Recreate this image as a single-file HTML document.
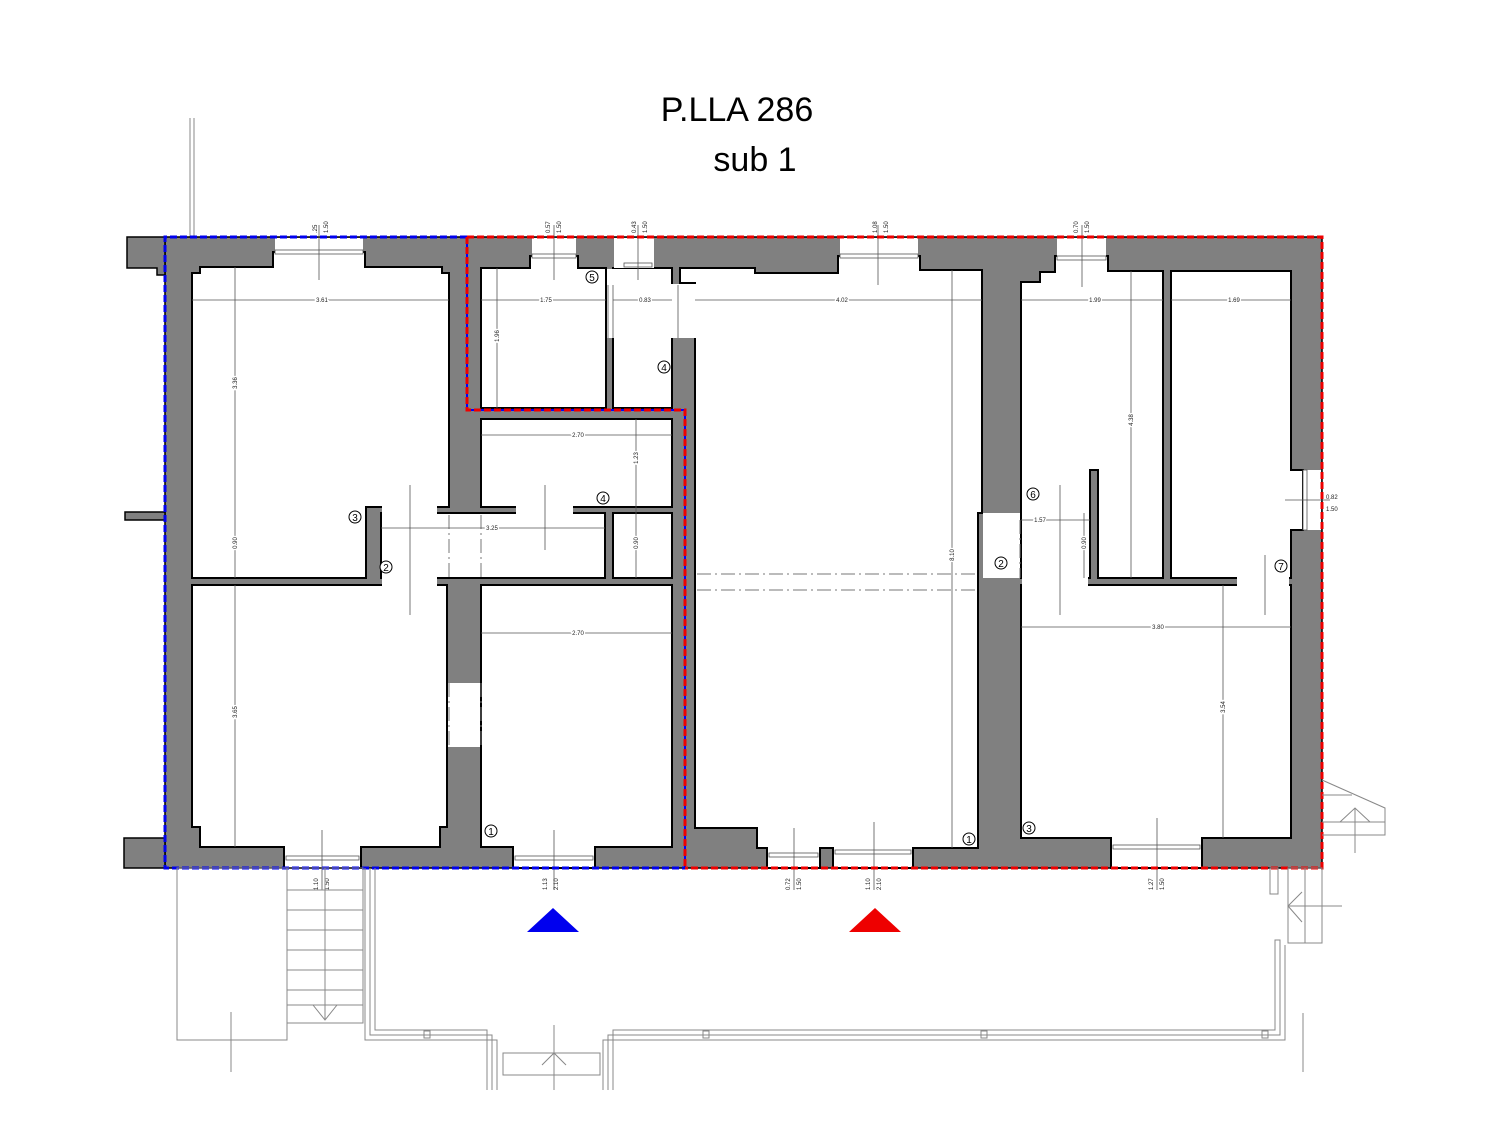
<!DOCTYPE html>
<html><head><meta charset="utf-8"><style>
html,body{margin:0;padding:0;background:#fff}
svg{display:block}
text{font-family:"Liberation Sans",sans-serif}
.d{font-size:6px;fill:#222}
.r{fill:#fff;stroke:#000;stroke-width:2}
.l{stroke:#555;stroke-width:0.8;fill:none}
.t{stroke:#888;stroke-width:1;fill:none}
</style></head><body>
<svg width="1500" height="1143" viewBox="0 0 1500 1143" xmlns="http://www.w3.org/2000/svg">
<text x="737" y="121" font-size="34" text-anchor="middle">P.LLA 286</text>
<text x="755" y="171" font-size="34" text-anchor="middle">sub 1</text>
<line x1="190" y1="118" x2="190" y2="237" class="t"/><line x1="194" y1="118" x2="194" y2="237" class="t"/>

<g fill="#808080" stroke="#000" stroke-width="1.5">
<rect x="165" y="237" width="1157" height="631"/>
<polygon points="127,237 165,237 165,275 157,275 157,268 127,268"/>
<rect x="125" y="512" width="40" height="8"/>
<rect x="124" y="838" width="41" height="30"/>
</g>
<polygon class="r" points="192,273 200,273 200,267 273,267 273,252 365,252 365,267 442,267 442,273 449,273 449,507 366,507 366,578 192,578"/>
<polygon class="r" points="481,268 530,268 530,256 578,256 578,268 606,268 606,408 481,408"/>
<rect class="r" x="613" y="268" width="59" height="140"/>
<polygon class="r" points="481,419 672,419 672,507 481,507"/>
<polygon class="r" points="381,513 605,513 605,578 381,578"/>
<rect class="r" x="613" y="513" width="59" height="65"/>
<polygon class="r" points="192,585 447,585 447,827 440,827 440,847 361,847 361,868 363,868 284,868 284,847 200,847 200,827 192,827"/>
<polygon class="r" points="481,585 672,585 672,847 595,847 595,868 513,868 513,847 481,847"/>
<polygon class="r" points="695,338 695,283 680,283 680,268 755,268 755,273 838,273 838,256 920,256 920,270 982,270 982,513 978,513 978,848 913,848 913,868 833,868 833,848 820,848 820,868 767,868 767,848 757,848 757,828 695,828"/>
<polygon class="r" points="1021,282 1040,282 1040,272 1055,272 1055,256 1108,256 1108,271 1163,271 1163,578 1098,578 1098,470 1090,470 1090,578 1021,578"/>
<polygon class="r" points="1171,271 1291,271 1291,470 1303,470 1303,530 1291,530 1291,578 1171,578"/>
<polygon class="r" points="1021,585 1291,585 1291,838 1202,838 1202,868 1111,868 1111,838 1021,838"/>
<g fill="#fff" stroke="none">
<rect x="275" y="238" width="88" height="20"/>
<rect x="532" y="238" width="44" height="20"/>
<rect x="607" y="269" width="7" height="69"/>
<rect x="614" y="238" width="40" height="30"/>
<rect x="840" y="238" width="78" height="20"/>
<rect x="1057" y="238" width="49" height="20"/>
<rect x="671" y="284" width="25" height="54"/>
<rect x="382" y="505" width="55" height="10"/>
<rect x="516" y="505" width="57" height="10"/>
<rect x="382" y="576" width="55" height="11"/>
<rect x="448" y="683" width="32" height="64"/>
<rect x="983" y="513" width="37" height="65"/>
<rect x="1022" y="513" width="66" height="6"/>
<rect x="1022" y="576" width="66" height="11"/>
<rect x="1237" y="576" width="52" height="11"/>
<rect x="1303" y="470" width="18" height="60"/>
<rect x="286" y="848" width="73" height="19"/>
<rect x="515" y="848" width="78" height="19"/>
<rect x="769" y="848" width="49" height="19"/>
<rect x="835" y="848" width="76" height="19"/>
<rect x="1113" y="838" width="87" height="29"/>
</g>
<g class="l">
<rect x="275" y="250" width="88" height="4"/><rect x="532" y="254" width="44" height="4"/><rect x="624" y="263" width="28" height="4"/>
<rect x="840" y="254" width="78" height="4"/><rect x="1057" y="256" width="49" height="4"/>
<rect x="286" y="856" width="73" height="4"/><rect x="515" y="856" width="78" height="4"/><rect x="769" y="853" width="49" height="4"/><rect x="835" y="850" width="76" height="4"/><rect x="1113" y="845" width="87" height="4"/>
<rect x="1303" y="470" width="4" height="60"/>
<line x1="608" y1="285" x2="608" y2="338"/><line x1="613" y1="285" x2="613" y2="338"/><line x1="678" y1="285" x2="678" y2="338"/>
</g>
<g stroke="#777" stroke-width="1" stroke-dasharray="14,4,2,4" fill="none">
<line x1="697" y1="574" x2="978" y2="574"/><line x1="697" y1="590" x2="978" y2="590"/>
<line x1="449" y1="515" x2="449" y2="578"/><line x1="481" y1="515" x2="481" y2="578"/>
<line x1="449" y1="683" x2="449" y2="747"/><line x1="481" y1="683" x2="481" y2="747"/>
<line x1="1020" y1="520" x2="1020" y2="578"/>
</g>
<g class="l">
<line x1="192" y1="300" x2="449" y2="300"/><line x1="481" y1="300" x2="606" y2="300"/><line x1="613" y1="300" x2="672" y2="300"/>
<line x1="695" y1="300" x2="982" y2="300"/><line x1="1021" y1="300" x2="1163" y2="300"/><line x1="1171" y1="300" x2="1291" y2="300"/>
<line x1="481" y1="435" x2="672" y2="435"/><line x1="381" y1="528" x2="605" y2="528"/><line x1="481" y1="633" x2="672" y2="633"/>
<line x1="1021" y1="520" x2="1090" y2="520"/><line x1="1021" y1="627" x2="1291" y2="627"/>
<line x1="235" y1="267" x2="235" y2="578"/><line x1="235" y1="585" x2="235" y2="847"/><line x1="497" y1="268" x2="497" y2="408"/>
<line x1="636" y1="419" x2="636" y2="578"/><line x1="952" y1="270" x2="952" y2="848"/><line x1="1131" y1="271" x2="1131" y2="578"/>
<line x1="1223" y1="585" x2="1223" y2="838"/><line x1="1084" y1="513" x2="1084" y2="578"/>
<line x1="319" y1="225" x2="319" y2="280"/><line x1="554" y1="225" x2="554" y2="280"/><line x1="638" y1="225" x2="638" y2="280"/>
<line x1="878" y1="225" x2="878" y2="285"/><line x1="1082" y1="225" x2="1082" y2="287"/>
<line x1="410" y1="485" x2="410" y2="615"/><line x1="545" y1="485" x2="545" y2="550"/><line x1="1060" y1="485" x2="1060" y2="615"/><line x1="1265" y1="555" x2="1265" y2="615"/>
<line x1="322" y1="830" x2="322" y2="890"/><line x1="554" y1="830" x2="554" y2="890"/><line x1="794" y1="828" x2="794" y2="890"/><line x1="874" y1="822" x2="874" y2="890"/><line x1="1157" y1="818" x2="1157" y2="890"/>
<line x1="1285" y1="500" x2="1330" y2="500"/>
</g>
<g class="d" style="paint-order:stroke;stroke:#fff;stroke-width:3">
<text x="322" y="302" text-anchor="middle">3.61</text>
<text x="546" y="302" text-anchor="middle">1.75</text>
<text x="645" y="302" text-anchor="middle">0.83</text>
<text x="842" y="302" text-anchor="middle">4.02</text>
<text x="1095" y="302" text-anchor="middle">1.99</text>
<text x="1234" y="302" text-anchor="middle">1.69</text>
<text x="578" y="437" text-anchor="middle">2.70</text>
<text x="492" y="530" text-anchor="middle">3.25</text>
<text x="578" y="635" text-anchor="middle">2.70</text>
<text x="1040" y="522" text-anchor="middle">1.57</text>
<text x="1158" y="629" text-anchor="middle">3.80</text>
</g>
<g class="d"><text x="1326" y="499">0.82</text><text x="1326" y="511">1.50</text></g>
<g class="d" style="paint-order:stroke;stroke:#fff;stroke-width:3">
<text transform="translate(237,383) rotate(-90)" text-anchor="middle">3.36</text>
<text transform="translate(237,543) rotate(-90)" text-anchor="middle">0.90</text>
<text transform="translate(237,712) rotate(-90)" text-anchor="middle">3.65</text>
<text transform="translate(499,336) rotate(-90)" text-anchor="middle">1.96</text>
<text transform="translate(638,458) rotate(-90)" text-anchor="middle">1.23</text>
<text transform="translate(638,543) rotate(-90)" text-anchor="middle">0.90</text>
<text transform="translate(954,555) rotate(-90)" text-anchor="middle">8.10</text>
<text transform="translate(1133,420) rotate(-90)" text-anchor="middle">4.38</text>
<text transform="translate(1086,543) rotate(-90)" text-anchor="middle">0.90</text>
<text transform="translate(1225,707) rotate(-90)" text-anchor="middle">3.54</text>
</g>
<g class="d">
<text transform="translate(317,233) rotate(-90)">.25</text><text transform="translate(328,233) rotate(-90)">1.50</text>
<text transform="translate(550,233) rotate(-90)">0.57</text><text transform="translate(561,233) rotate(-90)">1.50</text>
<text transform="translate(636,233) rotate(-90)">0.43</text><text transform="translate(647,233) rotate(-90)">1.50</text>
<text transform="translate(877,233) rotate(-90)">1.08</text><text transform="translate(888,233) rotate(-90)">1.50</text>
<text transform="translate(1078,233) rotate(-90)">0.70</text><text transform="translate(1089,233) rotate(-90)">1.50</text>
<text transform="translate(318,890) rotate(-90)">1.10</text><text transform="translate(329,890) rotate(-90)">1.50</text>
<text transform="translate(547,890) rotate(-90)">1.13</text><text transform="translate(558,890) rotate(-90)">2.10</text>
<text transform="translate(790,890) rotate(-90)">0.72</text><text transform="translate(801,890) rotate(-90)">1.50</text>
<text transform="translate(870,890) rotate(-90)">1.10</text><text transform="translate(881,890) rotate(-90)">2.10</text>
<text transform="translate(1153,890) rotate(-90)">1.27</text><text transform="translate(1164,890) rotate(-90)">1.50</text>
</g>
<g font-size="10" text-anchor="middle">
<g fill="#fff" stroke="#000" stroke-width="1">
<circle cx="592" cy="277" r="6"/><circle cx="664" cy="367" r="6"/><circle cx="603" cy="498" r="6"/><circle cx="355" cy="517" r="6"/><circle cx="386" cy="567" r="6"/><circle cx="491" cy="831" r="6"/>
<circle cx="1033" cy="494" r="6"/><circle cx="1001" cy="563" r="6"/><circle cx="1281" cy="566" r="6"/><circle cx="969" cy="839" r="6"/><circle cx="1029" cy="828" r="6"/>
</g>
<text x="592" y="281">5</text><text x="664" y="371">4</text><text x="603" y="502">4</text><text x="355" y="521">3</text><text x="386" y="571">2</text><text x="491" y="835">1</text>
<text x="1033" y="498">6</text><text x="1001" y="567">2</text><text x="1281" y="570">7</text><text x="969" y="843">1</text><text x="1029" y="832">3</text>
</g>
<g fill="none" stroke-width="3">
<path d="M467,237 L467,410 L685,410 L685,868" stroke="#0000ff" stroke-width="2"/>
<path d="M467,237 H165 V868 H685" stroke="#0000ee" stroke-dasharray="7,3"/>
<path d="M467,237 H1322 V868 H685" stroke="#ee0000" stroke-dasharray="7,3"/>
<path d="M467,237 L467,410 L685,410 L685,868" stroke="#ee0000" stroke-dasharray="7,3"/>
</g>
<g class="t">
<rect x="177" y="868" width="110" height="172"/>
<rect x="287" y="868" width="76" height="155"/>
<line x1="287" y1="890" x2="363" y2="890"/><line x1="287" y1="910" x2="363" y2="910"/><line x1="287" y1="930" x2="363" y2="930"/><line x1="287" y1="950" x2="363" y2="950"/><line x1="287" y1="970" x2="363" y2="970"/><line x1="287" y1="990" x2="363" y2="990"/><line x1="287" y1="1005" x2="363" y2="1005"/>
<line x1="325" y1="868" x2="325" y2="1020"/><polyline points="313,1005 325,1020 337,1005"/>
<line x1="231" y1="1012" x2="231" y2="1072"/>
<polyline points="365,868 365,1040 497,1040 497,1090"/><polyline points="370,868 370,1035 492,1035 492,1090"/><polyline points="375,868 375,1030 487,1030 487,1090"/>
<polyline points="603,1090 603,1040 1285,1040 1285,945"/><polyline points="608,1090 608,1035 1280,1035 1280,940 1275,940 1275,1030 613,1030 613,1090"/>
<rect x="503" y="1053" width="97" height="22"/><line x1="554" y1="1025" x2="554" y2="1090"/><polyline points="542,1065 554,1053 566,1065"/>
<rect x="424" y="1031" width="6" height="7"/><rect x="703" y="1031" width="6" height="7"/><rect x="981" y="1031" width="6" height="7"/><rect x="1262" y="1031" width="6" height="7"/>
<rect x="1270" y="868" width="8" height="26"/>
<rect x="1288" y="868" width="34" height="75"/><line x1="1305" y1="868" x2="1305" y2="943"/>
<line x1="1288" y1="906" x2="1342" y2="906"/><polyline points="1302,892 1288,906 1302,922"/>
<line x1="1303" y1="1013" x2="1303" y2="1072"/>
<polyline points="1322,780 1385,808 1385,835 1322,835"/><line x1="1322" y1="795" x2="1352" y2="795"/><line x1="1322" y1="822" x2="1385" y2="822"/>
<line x1="1355" y1="808" x2="1355" y2="853"/><polyline points="1340,822 1355,808 1370,822"/>
</g>
<polygon points="527,932 553,908 579,932" fill="#0000ee"/>
<polygon points="849,932 875,908 901,932" fill="#ee0000"/>
</svg>
</body></html>
